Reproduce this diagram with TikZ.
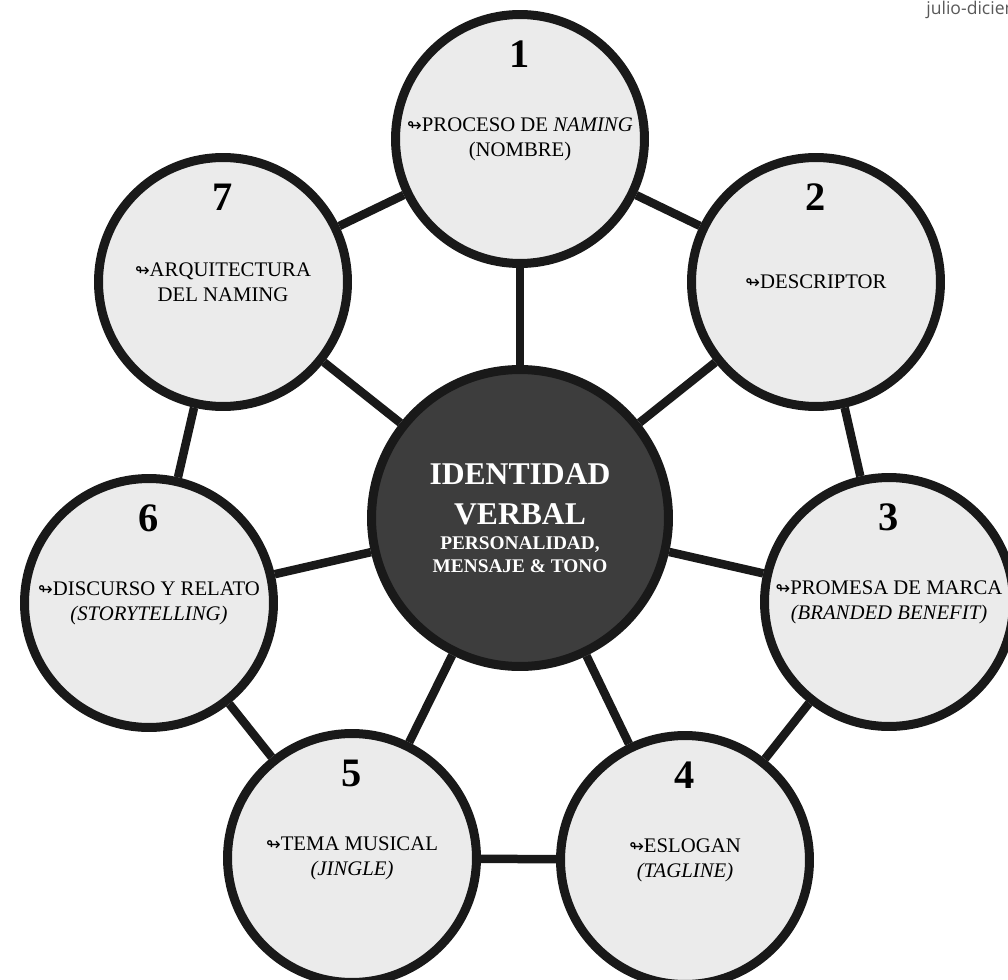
\documentclass[tikz,border=0pt]{standalone}
\usepackage{fontspec}
\setmainfont{Liberation Serif}
\newfontfamily\arrowfont{DejaVu Sans}
\newfontfamily\headfont{Open Sans}
\usepackage{tikz}
\usetikzlibrary{
  positioning,
  calc
}
\newcommand{\looparr}{{\arrowfont\fontsize{10}{10}\selectfont ↬}}

\begin{document}
\begin{tikzpicture}[
  x=0.02cm, y=-0.02cm,
  petal/.style={circle, draw=black!90, line width=0.18cm, fill=black!8, minimum size=4.98cm, inner sep=0pt, align=center, font=\fontsize{11.8}{14.2}\selectfont},
  core/.style={circle, draw=black!90, line width=0.18cm, fill=black!76, minimum size=5.94cm, inner sep=0pt, align=center, text=white, font=\fontsize{11}{13}\selectfont\bfseries},
  num/.style={inner sep=0pt, font=\fontsize{23}{25}\selectfont\bfseries},
  link/.style={line width=0.17cm, draw=black!90}
]
\useasboundingbox (0,0) rectangle (1008,980);

% Page header (runs past the border)
\node[anchor=base west, inner sep=0pt, text=black!65, font=\headfont\fontsize{10}{12}\selectfont] (head) at (926,15) {julio-diciembre};

% Centre
\node[core] (core) at (520,518) {{\fontsize{18}{23}\selectfont IDENTIDAD}\\[10pt]
{\fontsize{18}{23}\selectfont VERBAL}\\[1pt]
PERSONALIDAD,\\
MENSAJE \& TONO};

% Outer circles
\node[petal] (c1) at (520,139) {\looparr PROCESO DE \textit{NAMING}\\(NOMBRE)};
\node[petal] (c2) at (816,282) {\looparr DESCRIPTOR};
\node[petal] (c3) at (889,602) {\looparr PROMESA DE MARCA\\\textit{(BRANDED BENEFIT)}};
\node[petal] (c4) at (685,860) {\looparr ESLOGAN\\\textit{(TAGLINE)}};
\node[petal] (c5) at (352,858) {\looparr TEMA MUSICAL\\\textit{(JINGLE)}};
\node[petal] (c6) at (149,603) {\looparr DISCURSO Y RELATO\\\textit{(STORYTELLING)}};
\node[petal] (c7) at (223,282) {\looparr ARQUITECTURA\\DEL NAMING};

% Numbers
\node[num] (n1) at ([yshift=-0.88cm]c1.north) {1};
\node[num] (n2) at ([yshift=-0.88cm]c2.north) {2};
\node[num] (n3) at ([yshift=-0.88cm]c3.north) {3};
\node[num] (n4) at ([yshift=-0.88cm]c4.north) {4};
\node[num] (n5) at ([yshift=-0.88cm]c5.north) {5};
\node[num] (n6) at ([yshift=-0.88cm]c6.north) {6};
\node[num] (n7) at ([yshift=-0.88cm]c7.north) {7};

% Spokes
\draw[link] (core) -- (c1);
\draw[link] (core) -- (c2);
\draw[link] (core) -- (c3);
\draw[link] (core) -- (c4);
\draw[link] (core) -- (c5);
\draw[link] (core) -- (c6);
\draw[link] (core) -- (c7);

% Ring
\draw[link] (c1) -- (c2);
\draw[link] (c2) -- (c3);
\draw[link] (c3) -- (c4);
\draw[link] (c4) -- (c5);
\draw[link] (c5) -- (c6);
\draw[link] (c6) -- (c7);
\draw[link] (c7) -- (c1);

\end{tikzpicture}
\end{document}
